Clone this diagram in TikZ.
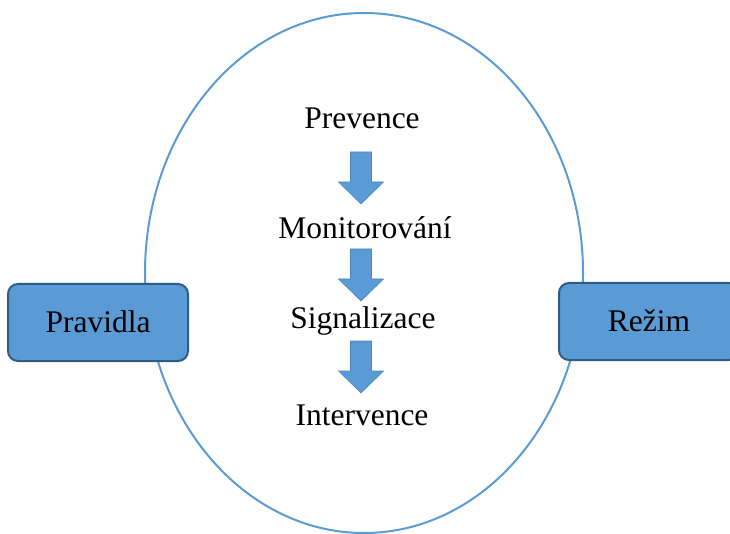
\documentclass[tikz,border=0pt]{standalone}
\usepackage{fontspec}
\setmainfont{Liberation Serif}
\usetikzlibrary{shapes.geometric}
\definecolor{fillblue}{HTML}{5B9BD5}
\definecolor{edgeblue}{HTML}{2F5B85}
\definecolor{arrowedge}{HTML}{4A86BF}
\tikzset{
  sidebox/.style={draw=edgeblue, line width=2pt, fill=fillblue, rounded corners=10pt,
    minimum width=180pt, minimum height=77pt, inner sep=0pt},
  lbl/.style={font=\fontsize{31.5pt}{36pt}\selectfont, anchor=base, inner sep=0pt},
  blockarrow/.style={fill=fillblue, draw=arrowedge, line width=0.6pt},
}
\begin{document}
\begin{tikzpicture}[x=1pt,y=-1pt]
\useasboundingbox (0,0) rectangle (730,534);
\node[draw=fillblue, line width=2pt, ellipse, minimum width=438pt, minimum height=520pt, inner sep=0pt] (circle) at (364,273) {};
\node[sidebox] (pravidla) at (98,322.5) {};
\node[lbl] (pravidlaT) at (98,332) {Pravidla};
\node[sidebox] (rezim) at (649,321.5) {};
\node[lbl] (rezimT) at (649,331) {Režim};
\node[lbl] (prevence) at (362,129) {Prevence};
\node[lbl] (monitor) at (365,239) {Monitorování};
\node[lbl] (signal) at (363,328) {Signalizace};
\node[lbl] (interv) at (362,425) {Intervence};
\foreach \n/\t in {a1/152, a2/249, a3/341}{
  \draw[blockarrow] (350.5,\t) -- (371.5,\t) -- (371.5,\t+30) -- (383.5,\t+30)
    -- (361,\t+52) -- (338.5,\t+30) -- (350.5,\t+30) -- cycle;
  \coordinate (\n) at (361,\t);
}
\end{tikzpicture}
\end{document}
